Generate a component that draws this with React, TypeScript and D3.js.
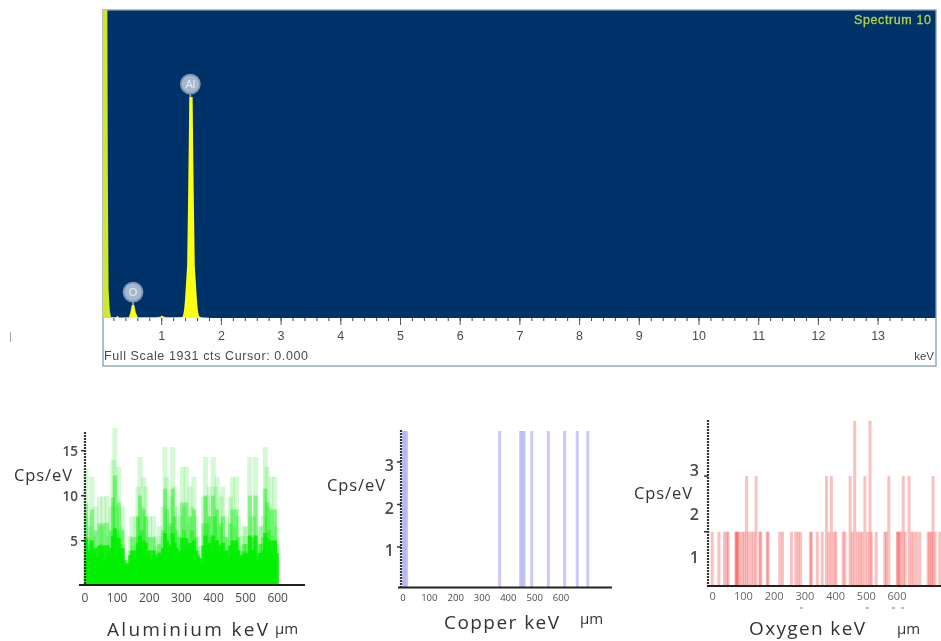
import React from "react";
import * as d3 from "d3";

// ---------- EDS spectrum ----------
const zeroPeakKeV = [0.015, 0.09, 0.098, 0.11, 0.13, 0.15];
const zeroPeakCts = [1931, 1931, 900, 180, 50, 6];
const spectrumKeV = [0.15, 0.2, 0.24, 0.26, 0.28, 0.32, 0.45, 0.475, 0.5, 0.54, 0.565, 0.6, 0.9, 0.98, 1.0, 1.03, 1.08, 1.2, 1.34, 1.356, 1.375, 1.39, 1.426, 1.442, 1.457, 1.462, 1.518, 1.523, 1.538, 1.554, 1.59, 1.605, 1.624, 1.66, 1.8];
const spectrumCts = [6, 4, 6, 14, 4, 3, 4, 35, 82, 82, 35, 4, 4, 8, 16, 10, 4, 5, 6, 12, 50, 113, 326, 740, 1200, 1385, 1385, 1200, 740, 326, 113, 50, 12, 4, 2];
const keVTicks = [1, 2, 3, 4, 5, 6, 7, 8, 9, 10, 11, 12, 13];
const keVMinorTicks = d3.range(0.2, 13.9, 0.2);
const peakLabels = ["O", "Al"];
const peakKeV = [0.52, 1.48];
const peakBubbleCts = [144, 1448];
const peakTopCts = [82, 1385];

// ---------- Aluminium line scan ----------
const aluminiumCps = [13, 7.7, 6.6, 12.1, 5.5, 8.8, 4.4, 9.9, 6.6, 9.9, 3.3, 10, 5.5, 8.8, 14, 17.5, 8.8, 13.2, 6.6, 8.8, 3.3, 1.5, 2.2, 5.5, 7.7, 4.4, 7.7, 11, 14.3, 8.8, 12.1, 11, 5.5, 7.7, 3.3, 7.7, 5.5, 4.4, 6.6, 5.5, 8.8, 15.4, 12.1, 6.6, 9.9, 15.4, 11, 8.8, 5.5, 7.7, 13.2, 8.8, 13.2, 6.6, 11, 8.8, 12.1, 7.7, 5.5, 4.4, 2.2, 9.9, 14.3, 9.9, 11, 7.7, 14.3, 11, 12.1, 6.6, 9.9, 11, 5.5, 7.7, 4.4, 9.9, 12.1, 6.6, 12.1, 7.7, 4.4, 5.5, 6.6, 6.6, 5.5, 14.3, 7.7, 7.7, 14.3, 3.3, 6.6, 6.6, 7.7, 15.4, 13.2, 8.8, 12.1, 5.5, 12.1, 6.6];
const aluminiumStepUm = 6;
const aluminiumXTicks = [0, 100, 200, 300, 400, 500, 600];
const aluminiumYTicks = [5, 10, 15];

// ---------- Copper line scan ----------
const copperUm = [0, 3, 7, 12, 365, 445, 451, 458, 487, 550, 612, 660, 700];
const copperCps = [3.8, 3.8, 3.8, 3.8, 3.8, 3.8, 3.8, 3.8, 3.8, 3.8, 3.8, 3.8, 3.8];
const copperXTicks = [0, 100, 200, 300, 400, 500, 600];
const copperYTicks = [1, 2, 3];

// ---------- Oxygen line scan ----------
const oxygenUm = [0, 22, 40, 48, 52, 77, 79, 81, 84, 90, 98, 105, 112, 119, 128, 136, 143, 155, 158, 179, 182, 220, 229, 258, 272, 280, 288, 320, 323, 342, 358, 372, 380, 388, 397, 403, 426, 432, 449, 456, 464, 473, 481, 488, 497, 506, 514, 518, 534, 562, 567, 575, 603, 605, 609, 614, 622, 628, 641, 649, 657, 666, 676, 703, 708, 714, 719, 725, 741];
const oxygenCps = [1.58, 1.58, 1.58, 1.58, 1.58, 1.58, 1.58, 1.58, 1.58, 1.58, 1.58, 1.58, 2.86, 1.58, 1.58, 1.58, 2.86, 1.58, 1.58, 1.58, 1.58, 1.58, 1.58, 1.58, 1.58, 1.58, 1.58, 1.58, 1.58, 1.58, 1.58, 2.86, 1.58, 2.86, 1.58, 1.58, 1.58, 1.58, 2.86, 1.58, 4.13, 1.58, 1.58, 1.58, 2.86, 1.58, 4.13, 1.58, 1.58, 1.58, 1.58, 2.86, 1.58, 1.58, 1.58, 1.58, 2.86, 1.58, 2.86, 1.58, 1.58, 1.58, 1.58, 1.58, 1.58, 1.58, 2.86, 1.58, 1.58];
const oxygenXTicks = [0, 100, 200, 300, 400, 500, 600];
const oxygenYTicks = [1, 2, 3];
const oxygenStrayUm = [290, 505, 590, 620];

const SANS = "'Open Sans', 'Noto Sans', sans-serif";
const ARIAL = "'Liberation Sans', Arial, sans-serif";
const INK = "#4a4a4a";

function App() {
  const sx = d3.scaleLinear().domain([0, 1]).range([102, 161.7]);
  const sy = d3.scaleLinear().domain([0, 1931]).range([318, 10]);
  const toPts = (ks: number[], cs: number[]) => ks.map((k, i) => [k, cs[i]] as [number, number]);
  const area = d3.area<[number, number]>().x((d) => sx(d[0])).y0(sy(0)).y1((d) => sy(d[1]));

  const alX = d3.scaleLinear().domain([0, 600]).range([85, 277.7]);
  const alY = d3.scaleLinear().domain([5, 15]).range([540.7, 450.7]);
  const cuX = d3.scaleLinear().domain([0, 600]).range([402, 560]);
  const cuY = d3.scaleLinear().domain([1, 3]).range([550, 465]);
  const oxX = d3.scaleLinear().domain([0, 600]).range([710.7, 895]);
  const oxY = d3.scaleLinear().domain([1, 3]).range([557, 470]);

  const yAxis = (x: number, y0: number, y1: number) => (
    <line x1={x} x2={x} y1={y0} y2={y1} stroke="#333" strokeWidth={2.2} strokeDasharray="2 1" />
  );

  return (
    <svg width={941} height={641} viewBox="0 0 941 641" style={{ position: "absolute", left: 0, top: 0, display: "block", background: "#fff" }}>
      <defs>
        <filter id="soft" filterUnits="userSpaceOnUse" x={0} y={0} width={941} height={641}>
          <feGaussianBlur stdDeviation={0.45} />
        </filter>
        <filter id="softer" filterUnits="userSpaceOnUse" x={0} y={400} width={400} height={241}>
          <feGaussianBlur stdDeviation={0.7} />
        </filter>
      </defs>
      <g filter="url(#soft)">
        {/* main spectrum */}
        <rect x={103} y={10} width={833} height={356} fill="#fff" stroke="#8ea4b8" strokeWidth={1.4} />
        <rect x={103.5} y={10.5} width={832} height={307.5} fill="#02336a" />
        <path d={area(toPts(spectrumKeV, spectrumCts)) ?? ""} fill="#ffff14" />
        <path d={area(toPts(zeroPeakKeV, zeroPeakCts)) ?? ""} fill="#d2e62a" />
        <text x={854} y={24} fontFamily={ARIAL} fontSize={12.5} fill="#b4d43c" stroke="#b4d43c" strokeWidth={0.3} textLength={77}>Spectrum 10</text>
        {peakLabels.map((l, i) => (
          <g key={l}>
            <line x1={sx(peakKeV[i])} x2={sx(peakKeV[i])} y1={sy(peakBubbleCts[i])} y2={sy(peakTopCts[i])} stroke="#9fb2c8" strokeWidth={1.5} />
            <circle cx={sx(peakKeV[i])} cy={sy(peakBubbleCts[i]) - 3} r={9.5} fill="#a6b8ce" stroke="#7f94b0" strokeWidth={1.8} />
            <text x={sx(peakKeV[i])} y={sy(peakBubbleCts[i]) + 1} textAnchor="middle" fontFamily={ARIAL} fontSize={11} fill="#e8eef4">{l}</text>
          </g>
        ))}
        {keVMinorTicks.map((k) => (
          <line key={k} x1={sx(k)} x2={sx(k)} y1={318} y2={321} stroke="#444" strokeWidth={1} />
        ))}
        {keVTicks.map((k) => (
          <g key={k}>
            <line x1={sx(k)} x2={sx(k)} y1={318} y2={325} stroke="#555" strokeWidth={1} />
            <text x={sx(k)} y={340} textAnchor="middle" fontFamily={ARIAL} fontSize={12.5} fill={INK}>{k}</text>
          </g>
        ))}
        <text x={104} y={360} fontFamily={ARIAL} fontSize={12.5} fill={INK} textLength={204}>Full Scale 1931 cts Cursor: 0.000</text>
        <text x={934} y={360} textAnchor="end" fontFamily={ARIAL} fontSize={11.5} fill={INK}>keV</text>
        <text x={9} y={340} fontFamily={ARIAL} fontSize={11} fill="#999">|</text>

        {/* aluminium */}
        <g filter="url(#softer)">
          {aluminiumCps.map((v, i) => (
            <rect key={i} x={alX(i * aluminiumStepUm) - 1.5} y={alY(v)} width={5} height={584 - alY(v)} fill="#20e020" opacity={0.2} />
          ))}
          {aluminiumCps.map((v, i) => (
            <rect key={i} x={alX(i * aluminiumStepUm) - 1} y={alY(v * 0.7)} width={4} height={584 - alY(v * 0.7)} fill="#00ee00" opacity={0.36} />
          ))}
          {aluminiumCps.map((v, i) => (
            <rect key={i} x={alX(i * aluminiumStepUm) - 1} y={alY(2 + v * 0.25)} width={4} height={584 - alY(2 + v * 0.25)} fill="#00ee00" opacity={0.85} />
          ))}
        </g>
        {yAxis(85, 432, 585)}
        <line x1={79} x2={305} y1={585} y2={585} stroke="#222" strokeWidth={1.8} />
        {aluminiumXTicks.map((t) => (
          <text key={t} x={alX(t)} y={602} textAnchor="middle" fontFamily={SANS} fontSize={12} fill={INK}>{t}</text>
        ))}
        {aluminiumYTicks.map((t) => (
          <g key={t}>
            <line x1={81} x2={85} y1={alY(t)} y2={alY(t)} stroke="#333" strokeWidth={1.5} />
            <text x={78} y={alY(t) + 5} textAnchor="end" fontFamily={SANS} fontSize={13.5} fontWeight={600} fill={INK}>{t}</text>
          </g>
        ))}
        <text x={14} y={481} fontFamily={SANS} fontSize={16.5} fill="#333" textLength={58}>Cps/eV</text>
        <text x={107} y={636} fontFamily={SANS} fontSize={19} fill="#333" textLength={161}>Aluminium keV</text>
        <text x={275} y={634} fontFamily={SANS} fontSize={15} fill="#333">µm</text>

        {/* copper */}
        {copperUm.map((u, i) => (
          <rect key={i} x={cuX(u)} y={cuY(copperCps[i])} width={3} height={587 - cuY(copperCps[i])} fill="#b4b4f2" opacity={0.72} />
        ))}
        {yAxis(401, 430, 588)}
        <line x1={398} x2={612} y1={587.5} y2={587.5} stroke="#222" strokeWidth={1.8} />
        {copperXTicks.map((t) => (
          <text key={t} x={cuX(t) + 1} y={601} textAnchor="middle" fontFamily={SANS} fontSize={9.5} fill={INK}>{t}</text>
        ))}
        {copperYTicks.map((t) => (
          <g key={t}>
            <line x1={397} x2={401} y1={cuY(t) - 3} y2={cuY(t) - 3} stroke="#333" strokeWidth={1.5} />
            <text x={394} y={cuY(t) + 6} textAnchor="end" fontFamily={SANS} fontSize={16} fontWeight={600} fill={INK}>{t}</text>
          </g>
        ))}
        <text x={327} y={491} fontFamily={SANS} fontSize={16.5} fill="#333" textLength={58}>Cps/eV</text>
        <text x={444} y={629} fontFamily={SANS} fontSize={19} fill="#333" textLength={115}>Copper keV</text>
        <text x={580} y={624} fontFamily={SANS} fontSize={15} fill="#333">µm</text>

        {/* oxygen */}
        {oxygenUm.map((u, i) => (
          <rect key={i} x={oxX(u)} y={oxY(oxygenCps[i])} width={3} height={585.7 - oxY(oxygenCps[i])} fill="#f04a4a" opacity={0.34} />
        ))}
        {yAxis(708, 420, 587)}
        <line x1={707} x2={941} y1={586} y2={586} stroke="#222" strokeWidth={1.8} />
        {oxygenXTicks.map((t) => (
          <text key={t} x={oxX(t) + 2} y={600} textAnchor="middle" fontFamily={SANS} fontSize={11} fill="#666">{t}</text>
        ))}
        {oxygenYTicks.map((t) => (
          <text key={t} x={699} y={oxY(t) + 6} textAnchor="end" fontFamily={SANS} fontSize={16} fontWeight={600} fill={INK}>{t}</text>
        ))}
        {[1.58, 2.86].map((t) => (
          <line key={t} x1={704} x2={708} y1={oxY(t)} y2={oxY(t)} stroke="#333" strokeWidth={1.5} />
        ))}
        {oxygenStrayUm.map((u) => (
          <line key={u} x1={oxX(u)} x2={oxX(u) + 3} y1={608} y2={608} stroke="#777" strokeWidth={1} />
        ))}
        <text x={634} y={499} fontFamily={SANS} fontSize={16.5} fill="#333" textLength={58}>Cps/eV</text>
        <text x={749} y={635} fontFamily={SANS} fontSize={19} fill="#333" textLength={116}>Oxygen keV</text>
        <text x={897} y={634} fontFamily={SANS} fontSize={15} fill="#333">µm</text>
      </g>
    </svg>
  );
}

export default App;
